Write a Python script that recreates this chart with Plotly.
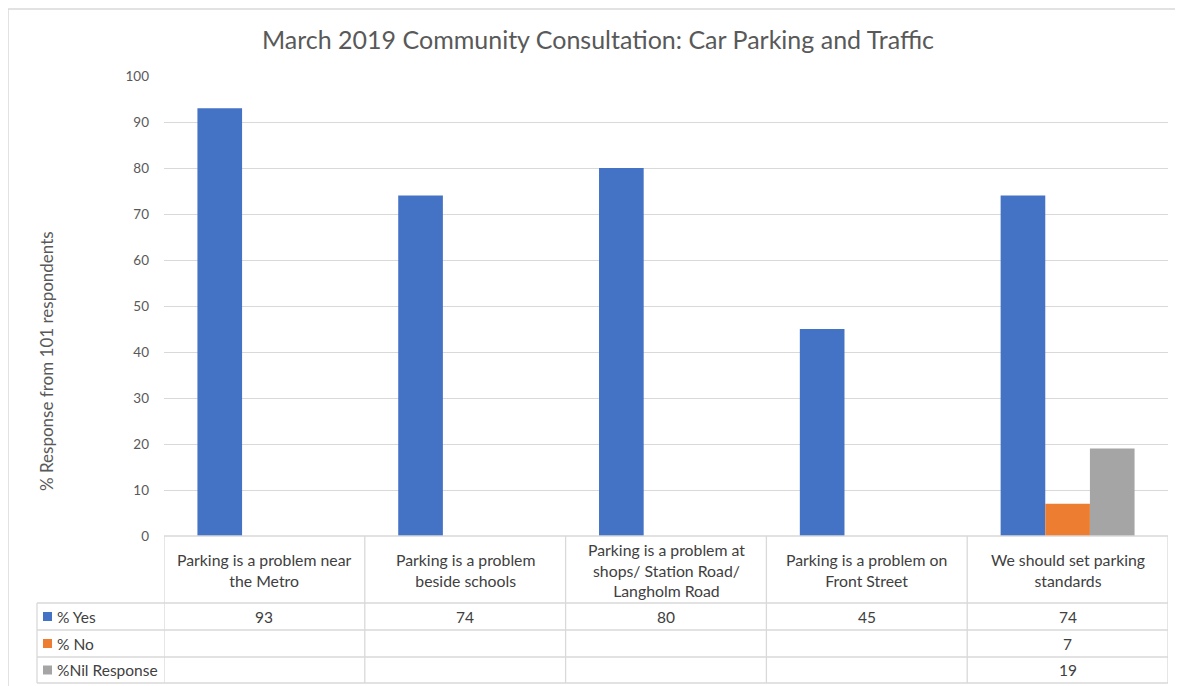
import plotly.graph_objects as go

categories = [
    "Parking is a problem near<br>the Metro",
    "Parking is a problem<br>beside schools",
    "Parking is a problem at<br>shops/ Station Road/<br>Langholm Road",
    "Parking is a problem on<br>Front Street",
    "We should set parking<br>standards",
]
series_names = ["% Yes", "% No", "%Nil Response"]
yes_vals = [93, 74, 80, 45, 74]
no_vals = [None, None, None, None, 7]
nil_vals = [None, None, None, None, 19]
colors = ["#4472C4", "#ED7D31", "#A5A5A5"]
y_ticks = list(range(0, 101, 10))

# page offset (browser body margin)
OFF = 8
W, H = 1183 - OFF, 686 - OFF
PL, PR, PT, PB = 164, 1168, 76, 536  # plot area in page pixels
L, T = PL - OFF, PT - OFF
R, B = W - (PR - OFF), H - (PB - OFF)
PW, PH = PR - PL, PB - PT

def px_x(px):
    return (px - PL) / PW

def px_y(py):
    return (PB - py) / PH

FONT = "Lato"
GRID = "#D9D9D9"
TXT = "#404040"

fig = go.Figure()
idx = list(range(len(categories)))
for name, vals, col in zip(series_names, [yes_vals, no_vals, nil_vals], colors):
    fig.add_trace(go.Bar(x=idx, y=vals, name=name, marker=dict(color=col, line=dict(width=0))))

shapes = []
annotations = []

row_lines = [603, 630, 657, 683]
header_mid = 570
row_mids = [616.5, 643.5, 670]
left_px = 37

shapes.append(dict(type="line", xref="paper", yref="paper", x0=0, x1=1, y0=0, y1=0,
                   line=dict(color=GRID, width=1.3)))
for ry in row_lines:
    shapes.append(dict(type="line", xref="paper", yref="paper", x0=px_x(left_px), x1=1,
                       y0=px_y(ry), y1=px_y(ry), line=dict(color=GRID, width=1.3)))
shapes.append(dict(type="line", xref="paper", yref="paper", x0=px_x(left_px), x1=px_x(left_px),
                   y0=px_y(row_lines[0]), y1=px_y(row_lines[-1]), line=dict(color=GRID, width=1.3)))
for i in range(len(categories) + 1):
    shapes.append(dict(type="line", xref="x", yref="paper", x0=i - 0.5, x1=i - 0.5,
                       y0=0, y1=px_y(row_lines[-1]), line=dict(color=GRID, width=1.3)))

for i, c in enumerate(categories):
    annotations.append(dict(x=i, y=px_y(header_mid), xref="x", yref="paper", text=c,
                            showarrow=False, font=dict(size=15.8, color=TXT, family=FONT),
                            align="center", xanchor="center", yanchor="middle"))

for r, (name, vals, col) in enumerate(zip(series_names, [yes_vals, no_vals, nil_vals], colors)):
    ym = px_y(row_mids[r])
    shapes.append(dict(type="rect", xref="paper", yref="paper",
                       x0=px_x(43), x1=px_x(52), y0=ym - 4.5 / PH, y1=ym + 4.5 / PH,
                       fillcolor=col, line=dict(width=0)))
    annotations.append(dict(x=px_x(55), y=ym, xref="paper", yref="paper", text=name,
                            showarrow=False, font=dict(size=15.5, color=TXT, family=FONT),
                            xanchor="left", yanchor="middle"))
    for i, v in enumerate(vals):
        if v is not None:
            annotations.append(dict(x=i, y=ym, xref="x", yref="paper", text=str(v),
                                    showarrow=False, font=dict(size=15.5, color=TXT, family=FONT),
                                    xanchor="center", yanchor="middle"))

annotations.append(dict(x=px_x(46), y=px_y(361), xref="paper", yref="paper",
                        text="% Response from 101 respondents", textangle=-90,
                        showarrow=False, font=dict(size=17, color="#595959", family=FONT),
                        xanchor="center", yanchor="middle"))

shapes.append(dict(type="line", xref="paper", yref="paper", x0=px_x(8), x1=px_x(1200),
                   y0=px_y(9), y1=px_y(9), line=dict(color="#D9D9D9", width=1.5)))
shapes.append(dict(type="line", xref="paper", yref="paper", x0=px_x(8), x1=px_x(8),
                   y0=px_y(9), y1=px_y(700), line=dict(color="#D9D9D9", width=1.5)))

fig.update_layout(
    width=W, height=H,
    margin=dict(l=L, r=R, t=T, b=B, autoexpand=False),
    paper_bgcolor="white", plot_bgcolor="white",
    barmode="group", bargap=0.333, bargroupgap=0,
    showlegend=False,
    title=dict(text="March 2019 Community Consultation: Car Parking and Traffic",
               x=(598 - OFF) / W, xanchor="center", y=1 - (40 - OFF) / H, yanchor="middle",
               font=dict(size=25, color="#595959", family=FONT)),
    xaxis=dict(range=[-0.5, len(categories) - 0.5], showticklabels=False, showgrid=False,
               zeroline=False, showline=False, ticks=""),
    yaxis=dict(range=[0, 100], tickvals=y_ticks, showgrid=True, gridcolor=GRID, gridwidth=1.3,
               zeroline=False, showline=False, ticks="", ticklabelstandoff=14,
               tickfont=dict(size=13.5, color="#595959", family=FONT)),
    shapes=shapes, annotations=annotations,
    font=dict(family=FONT),
)

fig.write_html("out.html")
